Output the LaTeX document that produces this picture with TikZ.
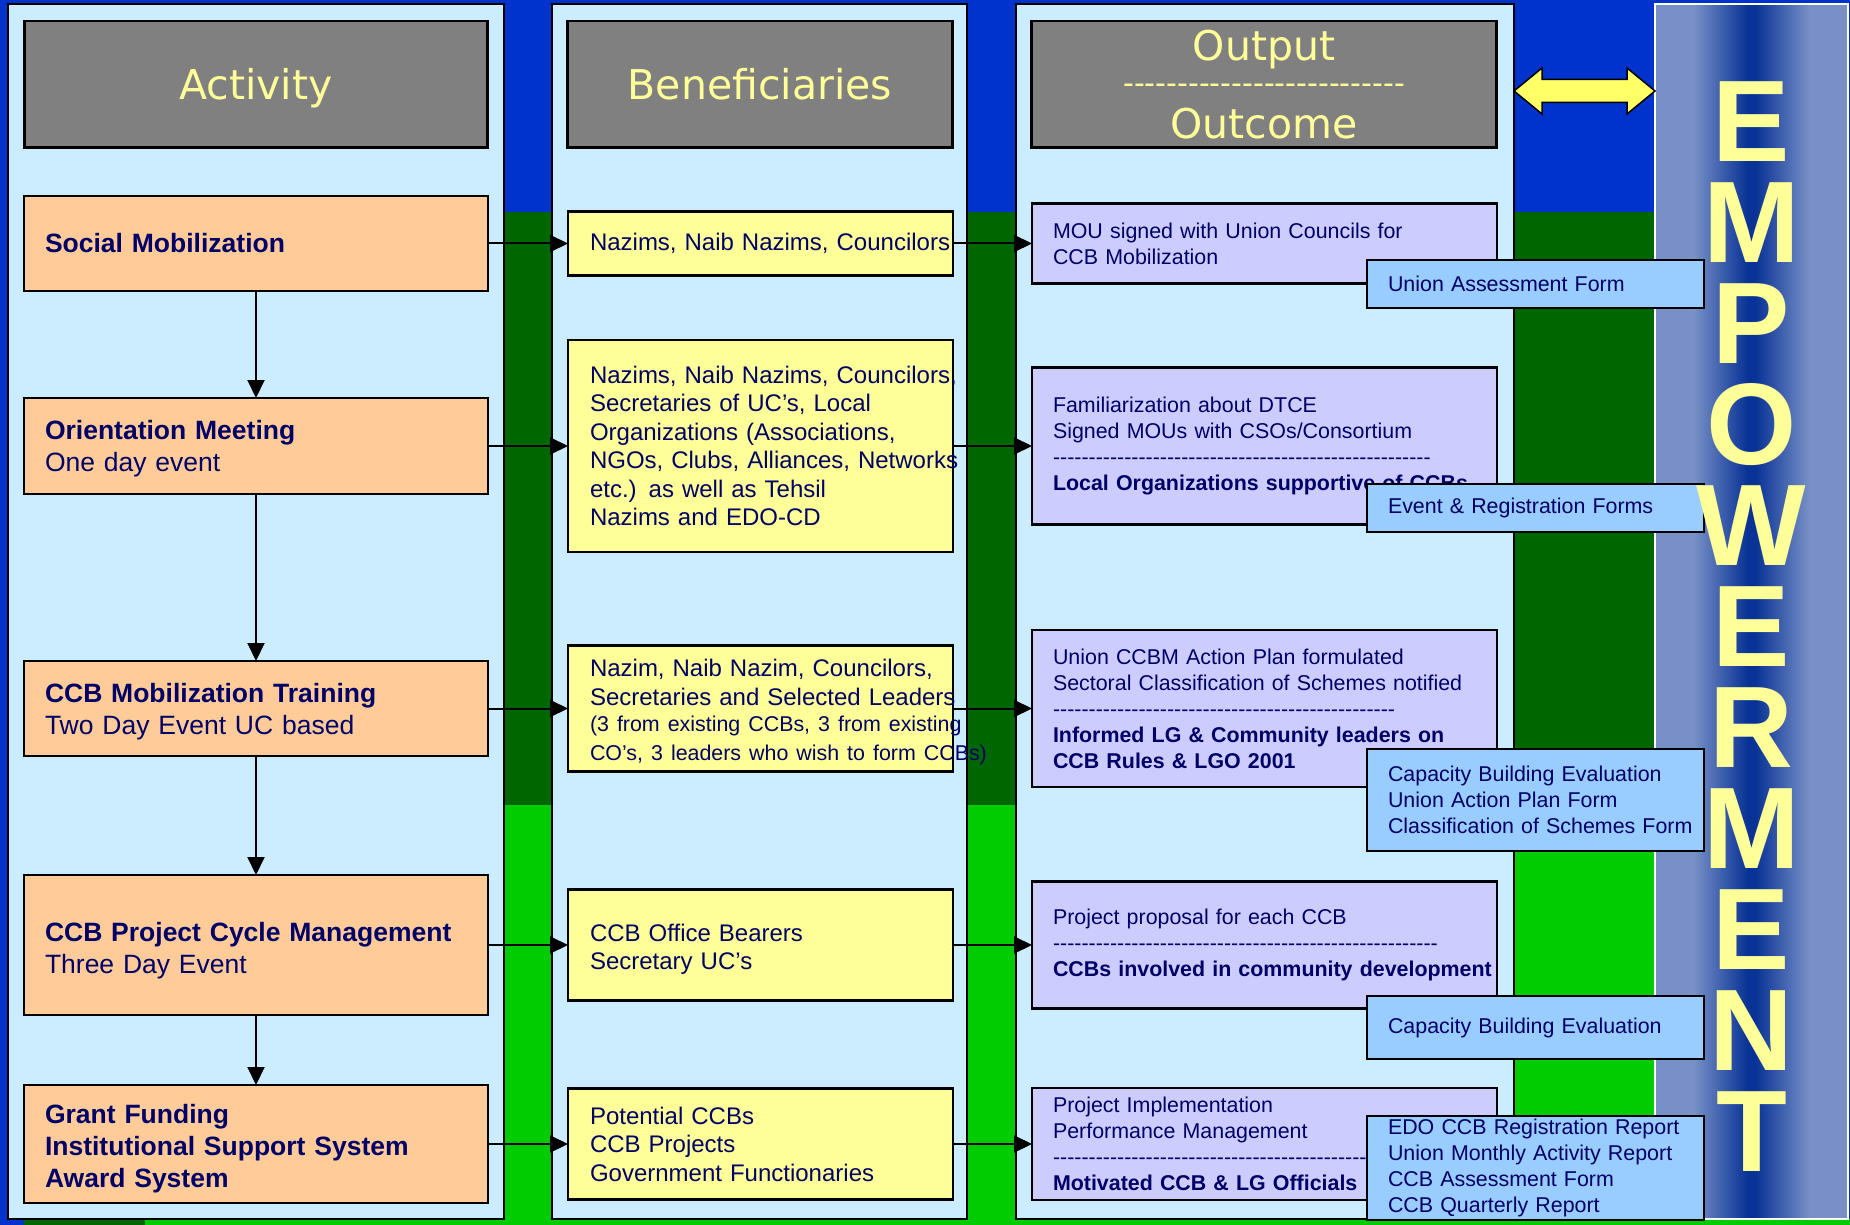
\documentclass[tikz,border=0pt]{standalone}
\usepackage{fontspec}
\setmainfont{Liberation Sans}
\newfontfamily\headfont{DejaVu Sans}
\usepackage{tikz}
\usetikzlibrary{arrows.meta, positioning}

\definecolor{bgblue}{HTML}{0033CC}
\definecolor{darkgrn}{HTML}{006600}
\definecolor{brightgrn}{HTML}{00CC00}
\definecolor{panelblue}{HTML}{CCECFF}
\definecolor{headgray}{HTML}{808080}
\definecolor{headyellow}{HTML}{FFFF99}
\definecolor{peach}{HTML}{FFCC99}
\definecolor{paleyellow}{HTML}{FFFF99}
\definecolor{lilac}{HTML}{CCCCFF}
\definecolor{formblue}{HTML}{99CCFF}
\definecolor{navytext}{HTML}{000066}
\definecolor{arrowyellow}{HTML}{FFFF66}
\definecolor{empedge}{HTML}{7890C6}
\definecolor{empmid}{HTML}{083296}

\pgfdeclarehorizontalshading{empshade}{100bp}{color(0bp)=(empedge); color(35bp)=(empedge); color(49bp)=(empmid); color(51bp)=(empmid); color(65bp)=(empedge); color(100bp)=(empedge)}

\newcommand{\dashrow}[1]{\foreach \k in {1,...,#1}{-}}
\newcommand{\lift}[1]{\rule{0pt}{#1}}

\begin{document}
\begin{tikzpicture}[
		x=1pt, y=-1pt,
		% flechas y cajas
		myarrow/.style={-{Triangle[length=18pt,width=17pt]}, line width=2pt, black},
		panel/.style={draw=black, line width=2.5pt, fill=panelblue},
		header/.style={rectangle, draw=black, line width=2.5pt, outer sep=0pt, inner ysep=0pt, fill=headgray, text=headyellow, minimum width=463pt, minimum height=126.5pt, align=center, font=\headfont\fontsize{41}{39}\selectfont},
		activity/.style={rectangle, draw=black, line width=2.2pt, outer sep=0pt, fill=peach, text=navytext, text width=422pt, inner xsep=21pt, align=left, font=\fontsize{26.5}{32}\selectfont},
		benefit/.style={rectangle, draw=black, line width=2.2pt, outer sep=0pt, fill=paleyellow, text=navytext, text width=341pt, inner xsep=22pt, align=left, font=\fontsize{24}{28.5}\selectfont},
		outcome/.style={rectangle, draw=black, line width=2.2pt, outer sep=0pt, fill=lilac, text=navytext, text width=423pt, inner xsep=21pt, align=left, font=\fontsize{21.4}{26}\selectfont},
		formbox/.style={rectangle, draw=black, line width=2.2pt, outer sep=0pt, fill=formblue, text=navytext, text width=295pt, inner xsep=21pt, align=left, font=\fontsize{21.4}{26}\selectfont},
		empletter/.style={text=headyellow, inner sep=0pt, align=center, font=\bfseries\fontsize{116}{101}\selectfont},
		linkarrow/.style={draw=black, line width=1.5pt, fill=arrowyellow}
		]
		\useasboundingbox (0,0) rectangle (1850,1225);
		
		% fondo
		\fill[bgblue] (0,0) rectangle (1850,1225);
		\fill[darkgrn] (504,212) rectangle (1655,805);
		\fill[brightgrn] (504,805) rectangle (1655,1225);
		\fill[brightgrn] (24,1219) rectangle (1850,1225);
		\fill[darkgrn] (24,1219) rectangle (145,1225);
		
		\draw[panel] (8,4) rectangle (504,1219);
		\draw[panel] (552,4) rectangle (967,1219);
		\draw[panel] (1016,4) rectangle (1514,1219);
		\fill[shading=empshade] (1655,4) rectangle (1848,1219);
		\draw[white, line width=1.5pt] (1655,4) rectangle (1848,1219);
		
		\node[activity, minimum height=95pt] (act1) at (256,243.5) {\textbf{Social Mobilization}};
		\node[activity, minimum height=96pt, below=107pt of act1] (act2) {\lift{24pt}\textbf{Orientation Meeting}\\One day event};
		\node[activity, minimum height=95pt, below=167pt of act2] (act3) {\lift{26pt}\textbf{CCB Mobilization Training}\\Two Day Event UC based};
		\node[activity, minimum height=140pt, below=119pt of act3] (act4) {\lift{31pt}\textbf{CCB Project Cycle Management}\\Three Day Event};
		\node[activity, minimum height=118pt, below=70pt of act4] (act5) {\lift{28pt}\textbf{Grant Funding}\\\textbf{Institutional Support System}\\\textbf{Award System}};
		
		\node[header, text height=30pt, text depth=0pt, above=48.5pt of act1] (hdact) {Activity};
		\node[header, text height=30pt, text depth=0pt, minimum width=385pt, right=80pt of hdact] (hdben) {Beneficiaries};
		\node[header, minimum width=465pt, right=79pt of hdben] (hdout) {Output\\{\fontsize{30}{39}\selectfont\raisebox{6pt}{\dashrow{26}}}\\Outcome};
		
		\node[benefit, minimum height=64pt, right=80pt of act1] (ben1) {\mbox{Nazims, Naib Nazims, Councilors}};
		\node[benefit, minimum height=212pt, right=80pt of act2] (ben2) {\mbox{Nazims, Naib Nazims, Councilors,}\\Secretaries of UC’s, Local\\Organizations (Associations,\\\mbox{NGOs, Clubs, Alliances, Networks}\\etc.) as well as Tehsil\\Nazims and EDO-CD};
		\node[benefit, minimum height=126pt, right=80pt of act3] (ben3) {\lift{24pt}\mbox{Nazim, Naib Nazim, Councilors,}\\\mbox{Secretaries and Selected Leaders}\\\fontsize{21.4}{26.5}\selectfont\mbox{(3 from existing CCBs, 3 from existing}\\\mbox{CO’s, 3 leaders who wish to form CCBs)}};
		\node[benefit, minimum height=111pt, right=80pt of act4] (ben4) {\lift{26pt}CCB Office Bearers\\Secretary UC’s};
		\node[benefit, minimum height=111pt, right=80pt of act5] (ben5) {Potential CCBs\\CCB Projects\\Government Functionaries};
		
		\node[outcome, minimum height=80pt, right=79pt of ben1] (out1) {MOU signed with Union Councils for\\CCB Mobilization};
		\node[outcome, minimum height=157pt, right=79pt of ben2] (out2) {Familiarization about DTCE\\Signed MOUs with CSOs/Consortium\\\dashrow{53}\\\mbox{\textbf{Local Organizations supportive of CCBs}}};
		\node[outcome, minimum height=157pt, right=79pt of ben3] (out3) {Union CCBM Action Plan formulated\\\mbox{Sectoral Classification of Schemes notified}\\\dashrow{48}\\\mbox{\textbf{Informed LG \& Community leaders on}}\\\textbf{CCB Rules \& LGO 2001}};
		\node[outcome, minimum height=127pt, right=79pt of ben4] (out4) {Project proposal for each CCB\\\dashrow{54}\\\mbox{\textbf{CCBs involved in community development}}};
		\node[outcome, minimum height=112pt, right=79pt of ben5] (out5) {Project Implementation\\Performance Management\\\dashrow{44}\\\textbf{Motivated CCB \& LG Officials}};
		
		\node[formbox, minimum height=48pt] (form1) at (1535.5,284) {Union Assessment Form};
		\node[formbox, minimum height=48pt] (form2) at (1535.5,508) {Event \& Registration Forms};
		\node[formbox, minimum height=102pt] (form3) at (1535.5,800) {Capacity Building Evaluation\\Union Action Plan Form\\\mbox{Classification of Schemes Form}};
		\node[formbox, minimum height=63pt] (form4) at (1535.5,1027.5) {Capacity Building Evaluation};
		\node[formbox, minimum height=102pt] (form5) at (1535.5,1168) {\mbox{EDO CCB Registration Report}\\\mbox{Union Monthly Activity Report}\\CCB Assessment Form\\CCB Quarterly Report};
		
		% flujo
		\draw[myarrow] (act1) -- (act2);
		\draw[myarrow] (act2) -- (act3);
		\draw[myarrow] (act3) -- (act4);
		\draw[myarrow] (act4) -- (act5);
		\foreach \r in {1,...,5} {
			\draw[myarrow] (act\r) -- (ben\r);
			\draw[myarrow] (ben\r) -- (out\r);
		}
		
		\draw[linkarrow] (1514,91) -- (1542,68) -- (1542,79.5) -- (1627,79.5) -- (1627,68) -- (1655,91) -- (1627,114) -- (1627,102.5) -- (1542,102.5) -- (1542,114) -- cycle;
		
		\node[empletter] (emp) at (1751.5,626.5) {E\\M\\P\\O\\W\\E\\R\\M\\E\\N\\T};
		
	\end{tikzpicture}
\end{document}
